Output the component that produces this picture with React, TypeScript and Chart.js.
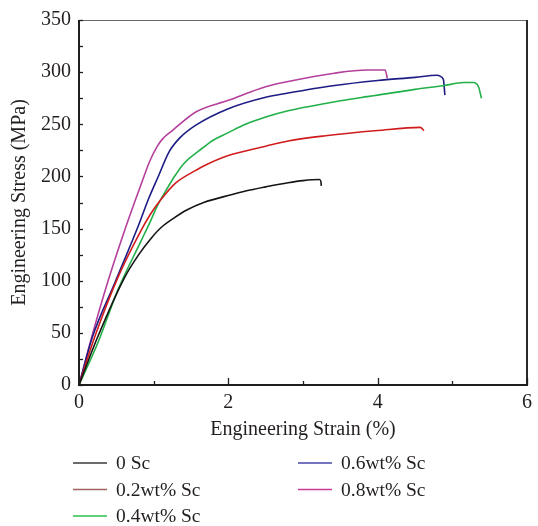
import React, { useEffect, useRef } from "react";
import { Chart, registerables } from "chart.js";

Chart.register(...registerables);

// ---- data (strain in %, stress in MPa) ----
const seriesLabels = ["0 Sc", "0.2wt% Sc", "0.4wt% Sc", "0.6wt% Sc", "0.8wt% Sc"];

const strain0 = [0, 0.25, 0.61, 0.8, 0.97, 1.1, 1.27, 1.45, 1.67, 2.04, 2.23, 2.5, 2.8, 3.0, 3.22, 3.24, 3.245];
const stress0 = [0, 46, 103, 125, 141, 151, 160, 168, 175, 182.5, 186, 190, 194, 196, 197, 195, 191];

const strain02 = [0, 0.21, 0.52, 0.83, 0.95, 1.1, 1.3, 1.57, 1.67, 2.0, 2.5, 2.8, 3.3, 4.0, 4.57, 4.62];
const stress02 = [0, 46, 103, 148, 163, 178, 194, 206, 210, 220, 229, 234, 239, 244, 247, 244];

const strain04 = [0, 0.25, 0.52, 0.83, 0.95, 1.05, 1.12, 1.27, 1.4, 1.67, 1.78, 2.0, 2.23, 2.5, 2.8, 3.3, 3.86, 4.0, 4.5, 4.88, 5.15, 5.28, 5.35, 5.39];
const stress04 = [0, 40, 91, 138, 156, 172, 181, 199, 212, 228, 234, 242, 250, 257, 263, 270, 276.5, 278, 283.5, 287, 290, 290, 286, 275];

const strain06 = [0, 0.18, 0.48, 0.78, 0.94, 1.05, 1.21, 1.35, 1.56, 2.0, 2.5, 2.8, 3.4, 4.0, 4.5, 4.79, 4.88, 4.9];
const stress06 = [0, 46, 98, 150, 180, 198, 224, 237, 249, 265, 276, 280, 287, 292, 295, 297, 293, 278];

const strain08 = [0, 0.17, 0.39, 0.61, 0.83, 0.95, 1.05, 1.12, 1.25, 1.57, 2.0, 2.5, 2.8, 3.42, 3.86, 4.1, 4.13];
const stress08 = [0, 46, 100, 148, 192, 215, 229, 236, 244, 262, 273, 286, 291, 299, 302, 302, 294];

const strainSeries = [strain0, strain02, strain04, strain06, strain08];
const stressSeries = [stress0, stress02, stress04, stress06, stress08];

const xTickLabels = [0, 2, 4, 6];
const yTickLabels = [0, 50, 100, 150, 200, 250, 300, 350];
const xTickMarks = [0, 1, 2, 3, 4, 5, 6];
const yTickMarks = [0, 25, 50, 75, 100, 125, 150, 175, 200, 225, 250, 275, 300, 325, 350];

// ---- styles ----
const lineColors = ["#151515", "#d01c1c", "#22b04a", "#1c1c84", "#b4409c"];
const legendColors = ["#3a3a3a", "#a06464", "#2cc04e", "#4646aa", "#c83c98"];
const FONT = "'Liberation Serif', 'DejaVu Serif', serif";
const TEXT = "#231f20";
const FS = 20;

const framePlugin = {
  id: "frame",
  afterDatasetsDraw(chart: any) {
    const { ctx, chartArea, scales } = chart;
    const { left, right, top, bottom } = chartArea;
    const x = scales.x;
    const y = scales.y;
    ctx.save();
    ctx.lineCap = "butt";
    ctx.strokeStyle = "#6a6a6a";
    ctx.lineWidth = 1;
    ctx.beginPath();
    ctx.moveTo(left, top + 0.5);
    ctx.lineTo(right, top + 0.5);
    ctx.stroke();
    ctx.strokeStyle = "#2a2a2a";
    ctx.lineWidth = 2;
    ctx.beginPath();
    ctx.moveTo(right, top);
    ctx.lineTo(right, bottom);
    ctx.stroke();
    ctx.strokeStyle = "#1e1e1e";
    ctx.lineWidth = 2;
    ctx.beginPath();
    ctx.moveTo(left, top);
    ctx.lineTo(left, bottom);
    ctx.lineTo(right + 1, bottom);
    ctx.stroke();
    ctx.lineWidth = 1.3;
    yTickMarks.forEach((v) => {
      const py = Math.round(y.getPixelForValue(v)) + 0.5;
      ctx.beginPath();
      ctx.moveTo(left, py);
      ctx.lineTo(left + 4, py);
      ctx.stroke();
    });
    xTickMarks.forEach((v) => {
      const px = Math.round(x.getPixelForValue(v)) + 0.5;
      const len = xTickLabels.includes(v) ? 7 : 4;
      ctx.beginPath();
      ctx.moveTo(px, bottom);
      ctx.lineTo(px, bottom - len);
      ctx.stroke();
    });
    ctx.restore();
  },
};

const legendPlugin = {
  id: "colLegend",
  afterDraw(chart: any) {
    const { ctx, chartArea } = chart;
    const { left, bottom } = chartArea;
    const rows = 3;
    ctx.save();
    ctx.font = `19.5px ${FONT}`;
    ctx.textBaseline = "middle";
    ctx.textAlign = "left";
    chart.data.datasets.forEach((ds: any, i: number) => {
      const col = Math.floor(i / rows);
      const row = i % rows;
      const x0 = left - 6 + col * 225;
      const yy = bottom + 78 + row * 26.5;
      ctx.strokeStyle = legendColors[i];
      ctx.lineWidth = 1.6;
      ctx.beginPath();
      ctx.moveTo(x0, yy);
      ctx.lineTo(x0 + 34, yy);
      ctx.stroke();
      ctx.fillStyle = TEXT;
      ctx.fillText(ds.label, x0 + 43, yy + 1);
    });
    ctx.restore();
  },
};

export default function App() {
  const ref = useRef<HTMLCanvasElement | null>(null);
  useEffect(() => {
    if (!ref.current) return;
    const datasets = seriesLabels.map((label, i) => ({
      label,
      data: strainSeries[i].map((s, j) => ({ x: s, y: stressSeries[i][j] })),
      borderColor: lineColors[i],
      backgroundColor: lineColors[i],
      borderWidth: 1.6,
      pointRadius: 0,
      cubicInterpolationMode: "monotone" as const,
      fill: false,
    }));
    const chart = new Chart(ref.current, {
      type: "line",
      data: { datasets },
      plugins: [framePlugin, legendPlugin],
      options: {
        animation: false,
        responsive: false,
        devicePixelRatio: 1,
        layout: { padding: { top: 18, right: 7, left: 0, bottom: 0 } },
        plugins: { legend: { display: false }, tooltip: { enabled: false } },
        scales: {
          x: {
            type: "linear",
            min: 0,
            max: 6,
            afterBuildTicks: (s: any) => {
              s.ticks = xTickLabels.map((v) => ({ value: v }));
            },
            afterFit: (s: any) => {
              s.height = 141;
            },
            grid: { display: false, drawTicks: false },
            border: { display: false },
            ticks: {
              padding: 6,
              color: TEXT,
              font: { family: FONT, size: FS },
              maxRotation: 0,
              autoSkip: false,
            },
            title: {
              display: true,
              text: "Engineering Strain (%)",
              color: TEXT,
              font: { family: FONT, size: FS },
              padding: { top: 0, bottom: 84 },
            },
          },
          y: {
            type: "linear",
            min: 0,
            max: 350,
            afterBuildTicks: (s: any) => {
              s.ticks = yTickLabels.map((v) => ({ value: v }));
            },
            afterFit: (s: any) => {
              s.width = 79;
            },
            grid: { display: false, drawTicks: false },
            border: { display: false },
            ticks: {
              padding: 8,
              color: TEXT,
              font: { family: FONT, size: FS },
              autoSkip: false,
            },
            title: {
              display: true,
              text: "Engineering Stress (MPa)",
              color: TEXT,
              font: { family: FONT, size: FS },
              padding: { top: 8, bottom: 0 },
            },
          },
        },
      },
    });
    return () => chart.destroy();
  }, []);
  return (
    <div style={{ position: "fixed", left: 0, top: 0, width: 538, height: 526, background: "#fff" }}>
      <canvas ref={ref} width={538} height={526} style={{ display: "block", width: 538, height: 526 }} />
    </div>
  );
}
